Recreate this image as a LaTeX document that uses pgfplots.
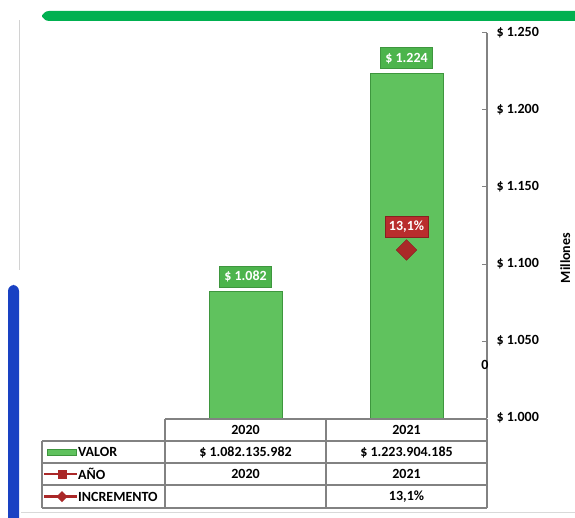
\documentclass[border=0pt]{standalone}
\usepackage{pgfplots}
\pgfplotsset{compat=1.18}
\usepackage{fontspec}
\setmainfont{Carlito}
\definecolor{barGreen}{RGB}{96,194,94}
\definecolor{barEdge}{RGB}{62,150,62}
\definecolor{labGreen}{RGB}{76,180,76}
\definecolor{topGreen}{RGB}{0,176,80}
\definecolor{bandBlue}{RGB}{25,65,195}
\definecolor{redBox}{RGB}{185,45,45}
\definecolor{redMark}{RGB}{170,40,40}
\definecolor{lineGray}{RGB}{130,130,130}
\newcommand{\tf}{\bfseries\fontsize{14}{16}\selectfont}
\begin{document}
\begin{tikzpicture}
\useasboundingbox (0pt,0pt) rectangle (575pt,517pt);
\begin{scope}[x=1pt,y=1pt]
\clip (0,0) rectangle (575,517);
\fill[white] (0,0) rectangle (575,517);
\fill[topGreen, rounded corners=7pt] (42,496) rectangle (590,506);
\draw[gray!35, line width=1pt] (19,247) -- (19,497);
\fill[bandBlue, rounded corners=6pt] (8,-10) rectangle (19,232);
\draw[gray!30, line width=0.8pt] (21,5) -- (575,5);
\end{scope}
% primary axis
\begin{axis}[at={(165pt,99pt)}, anchor=south west, width=322pt, height=385pt, scale only axis,
  xmin=-0.5, xmax=1.5, ymin=1000, ymax=1250,
  axis x line=none, axis y line*=right,
  axis line style={lineGray, line width=1.2pt},
  ytick={1000,1050,1100,1150,1200,1250},
  yticklabels={\$ 1.000,\$ 1.050,\$ 1.100,\$ 1.150,\$ 1.200,\$ 1.250},
  tick align=inside, major tick length=5pt,
  ytick style={lineGray, line width=1pt},
  yticklabel style={font=\tf, anchor=west, xshift=6pt},
  clip=false]
\addplot[ybar, bar width=73pt, fill=barGreen, draw=barEdge, line width=0.8pt,
  nodes near coords, point meta=explicit symbolic,
  every node near coord/.append style={fill=labGreen, draw=barEdge, text=white, font=\tf,
    anchor=south, inner xsep=5pt, inner ysep=2pt, minimum height=21pt, yshift=4pt}]
  coordinates {(0,1082.135982) [\$ 1.082] (1,1223.904185) [\$ 1.224]};
\end{axis}
% secondary axis (increment)
\begin{axis}[at={(165pt,99pt)}, anchor=south west, width=322pt, height=385pt, scale only axis,
  xmin=-0.5, xmax=1.5, ymin=-6.04, ymax=37.8,
  axis x line=none, axis y line*=right,
  y axis line style={draw=none},
  ytick={0}, yticklabels={0}, major tick length=0pt,
  yticklabel style={font=\tf, anchor=center, xshift=-2pt},
  clip=false]
\addplot[only marks, mark=square*, mark size=7.3pt,
  mark options={rotate=45, fill=redMark, draw=redMark!80!black},
  nodes near coords, point meta=explicit symbolic,
  every node near coord/.append style={fill=redBox, draw=redMark!80!black, text=white, font=\tf,
    anchor=south, inner xsep=4pt, inner ysep=2pt, minimum height=21pt, yshift=13pt}]
  coordinates {(1,13.1) [{13,1\%}]};
\end{axis}
\begin{scope}[x=1pt,y=1pt]
\begin{scope}[lineGray, line width=1.1pt]
\draw (165,98) -- (487,98);
\draw (42,76) -- (487,76);
\draw (42,54) -- (487,54);
\draw (42,32) -- (487,32);
\draw (42,9) -- (487,9);
\draw (42,76) -- (42,9);
\draw (165,98) -- (165,9);
\draw (326,98) -- (326,9);
\draw (487,98) -- (487,9);
\end{scope}
\node[font=\tf] at (245.5,87) {2020};
\node[font=\tf] at (406.5,87) {2021};
\node[font=\tf] at (245.5,65) {\$ 1.082.135.982};
\node[font=\tf] at (406.5,65) {\$ 1.223.904.185};
\node[font=\tf] at (245.5,43) {2020};
\node[font=\tf] at (406.5,43) {2021};
\node[font=\tf] at (406.5,20.5) {13,1\%};
\node[font=\tf, anchor=west, inner sep=0pt] at (78,65) {VALOR};
\node[font=\tf, anchor=west, inner sep=0pt] at (78,43) {AÑO};
\node[font=\tf, anchor=west, inner sep=0pt] at (78,20.5) {INCREMENTO};
\fill[barGreen, draw=barEdge, line width=0.6pt] (47,62) rectangle (76,68);
\draw[redMark, line width=2.5pt] (44,43) -- (77,43);
\fill[redMark] (57.5,38.5) rectangle (66.5,47.5);
\draw[redMark, line width=2.5pt] (44,20.5) -- (77,20.5);
\fill[redMark] (62,26) -- (67.5,20.5) -- (62,15) -- (56.5,20.5) -- cycle;
\node[rotate=90, anchor=north, inner sep=0pt, font=\tf] at (560,259) {Millones};
\end{scope}
\end{tikzpicture}
\end{document}
